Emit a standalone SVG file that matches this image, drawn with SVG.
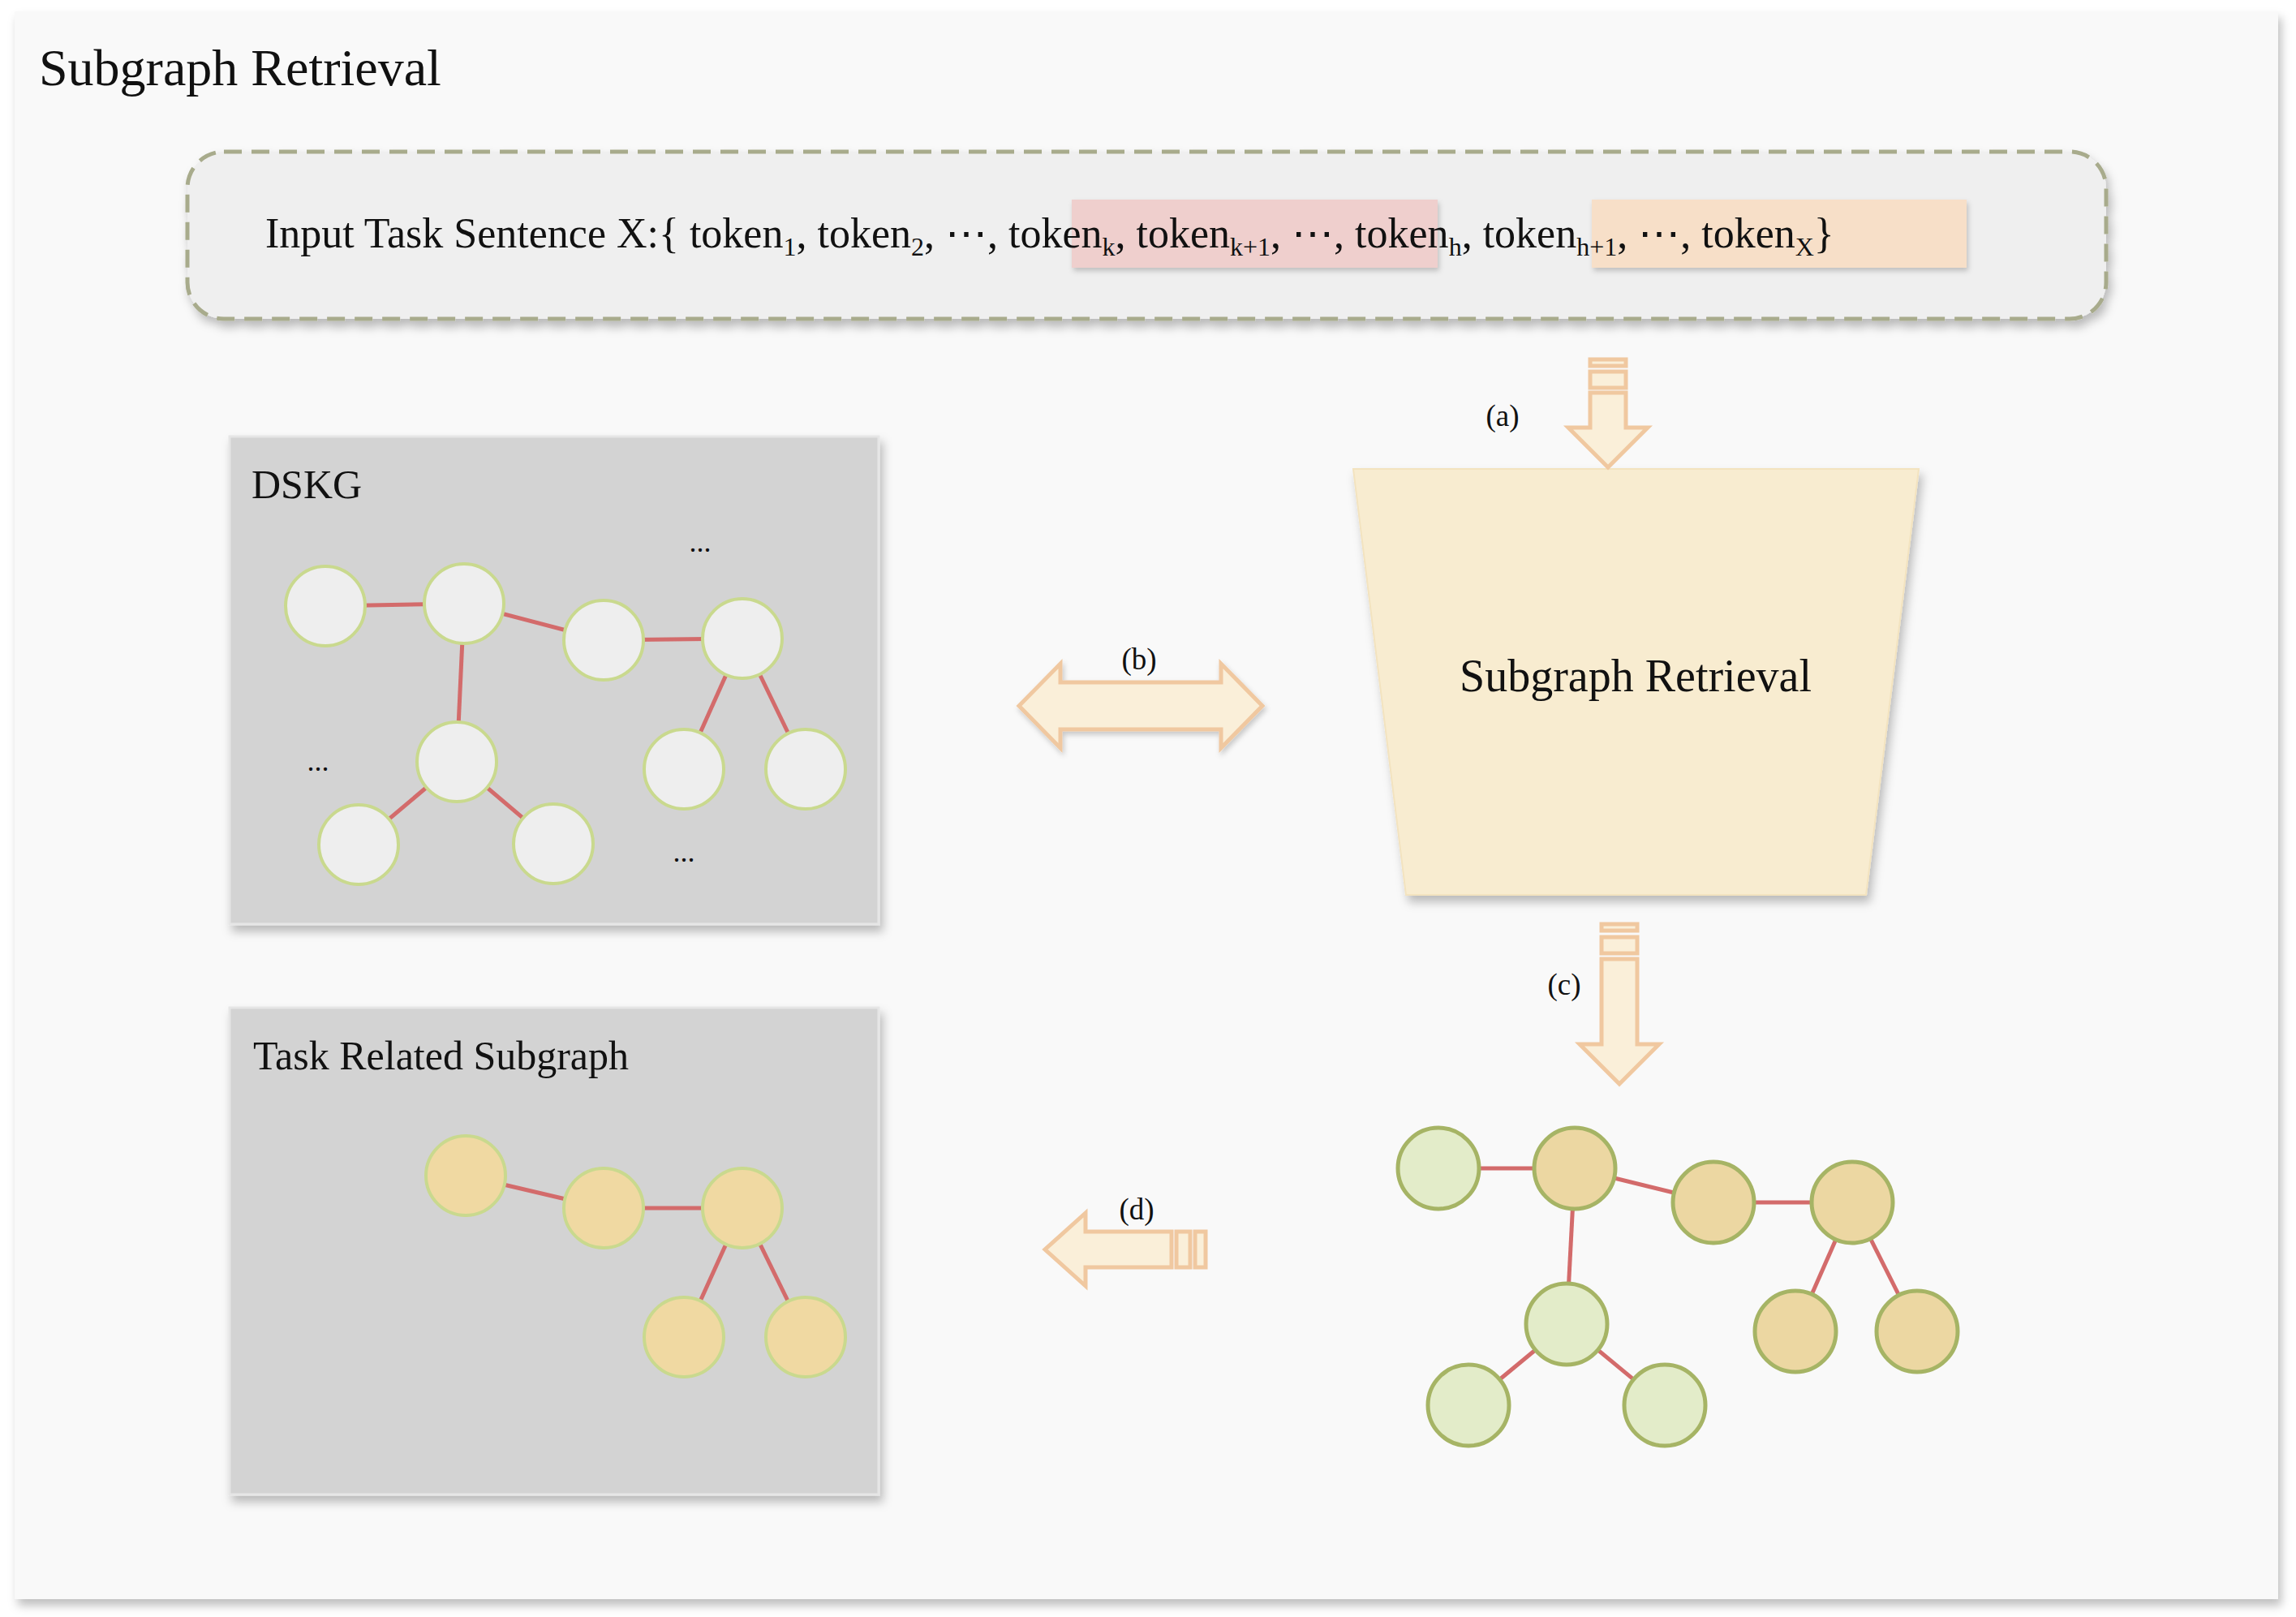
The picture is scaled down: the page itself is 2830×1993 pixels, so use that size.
<svg xmlns="http://www.w3.org/2000/svg" width="2830" height="1993" viewBox="0 0 2830 1993">
<defs>
<filter id="sh" x="-10%" y="-10%" width="130%" height="130%"><feDropShadow dx="4" dy="8" stdDeviation="6" flood-color="#000" flood-opacity="0.25"/></filter>
<filter id="sh2" x="-10%" y="-10%" width="130%" height="130%"><feDropShadow dx="2" dy="4" stdDeviation="3" flood-color="#000" flood-opacity="0.2"/></filter>
</defs>
<style>
text{font-family:"Liberation Serif","Times New Roman",serif;fill:#111}
.e{stroke:#d36b6b;stroke-width:5}
.g{fill:#eeeeee;stroke:#c9d98e;stroke-width:4}
.t{fill:#f0d9a2;stroke:#c9d98e;stroke-width:4}
.rg{fill:#e3ecc9;stroke:#a6b465;stroke-width:5}
.rt{fill:#ecd7a2;stroke:#a6b465;stroke-width:5}
.ar{fill:#faefd9;stroke:#f0c8a0;stroke-width:5}
.lab{font-size:37px}
</style>
<rect x="0" y="0" width="2830" height="1993" fill="#fff"/>
<rect x="18" y="14" width="2790" height="1957" fill="#f9f9f9" filter="url(#sh)"/>
<text x="48" y="105" font-size="64">Subgraph Retrieval</text>

<g id="input">
<rect x="231" y="187" width="2365" height="206" rx="45" fill="#efefef" stroke="#a8ab8c" stroke-width="5" stroke-dasharray="22 12" filter="url(#sh)"/>
<rect x="1321" y="246" width="451" height="84" fill="#efcfcd" filter="url(#sh2)"/>
<rect x="1962" y="246" width="462" height="84" fill="#f7dfc8" filter="url(#sh2)"/>
<text x="327" y="305" font-size="52">Input Task Sentence X:{ token<tspan font-size="32" dy="10">1</tspan><tspan dy="-10">, token</tspan><tspan font-size="32" dy="10">2</tspan><tspan dy="-10">, ⋯, token</tspan><tspan font-size="32" dy="10">k</tspan><tspan dy="-10">, token</tspan><tspan font-size="32" dy="10">k+1</tspan><tspan dy="-10">, ⋯, token</tspan><tspan font-size="32" dy="10">h</tspan><tspan dy="-10">, token</tspan><tspan font-size="32" dy="10">h+1</tspan><tspan dy="-10">, ⋯, token</tspan><tspan font-size="32" dy="10">X</tspan><tspan dy="-10">}</tspan></text>
</g>

<g id="dskg">
<rect x="283" y="538" width="800" height="601" fill="#d3d3d3" stroke="#e6e6e6" stroke-width="3" filter="url(#sh)"/>
<text x="310" y="614" font-size="50">DSKG</text>
<g>
<line class="e" x1="401" y1="747" x2="572" y2="744"/><line class="e" x1="572" y1="744" x2="744" y2="789"/><line class="e" x1="744" y1="789" x2="915" y2="787"/><line class="e" x1="572" y1="744" x2="563" y2="939"/><line class="e" x1="563" y1="939" x2="442" y2="1041"/><line class="e" x1="563" y1="939" x2="682" y2="1040"/><line class="e" x1="915" y1="787" x2="843" y2="948"/><line class="e" x1="915" y1="787" x2="993" y2="948"/>
</g>
<circle class="g" cx="401" cy="747" r="49"/><circle class="g" cx="572" cy="744" r="49"/><circle class="g" cx="744" cy="789" r="49"/><circle class="g" cx="915" cy="787" r="49"/><circle class="g" cx="563" cy="939" r="49"/><circle class="g" cx="442" cy="1041" r="49"/><circle class="g" cx="682" cy="1040" r="49"/><circle class="g" cx="843" cy="948" r="49"/><circle class="g" cx="993" cy="948" r="49"/>
<text x="863" y="680" font-size="36" text-anchor="middle">...</text>
<text x="392" y="950" font-size="36" text-anchor="middle">...</text>
<text x="843" y="1062" font-size="36" text-anchor="middle">...</text>
</g>

<g id="task">
<rect x="283" y="1242" width="800" height="600" fill="#d3d3d3" stroke="#e6e6e6" stroke-width="3" filter="url(#sh)"/>
<text x="312" y="1318" font-size="50">Task Related Subgraph</text>
<line class="e" x1="574" y1="1449" x2="744" y2="1489"/><line class="e" x1="744" y1="1489" x2="915" y2="1489"/><line class="e" x1="915" y1="1489" x2="843" y2="1648"/><line class="e" x1="915" y1="1489" x2="993" y2="1648"/>
<circle class="t" cx="574" cy="1449" r="49"/><circle class="t" cx="744" cy="1489" r="49"/><circle class="t" cx="915" cy="1489" r="49"/><circle class="t" cx="843" cy="1648" r="49"/><circle class="t" cx="993" cy="1648" r="49"/>
</g>

<g id="retrieval">
<polygon points="1668,578 2365,578 2300,1103 1733,1103" fill="#f8ecd0" stroke="#f3e3bf" stroke-width="2" filter="url(#sh)"/>
<text x="2016" y="852" font-size="56" text-anchor="middle">Subgraph Retrieval</text>
</g>

<g id="result">
<line class="e" x1="1773" y1="1440" x2="1941" y2="1440"/><line class="e" x1="1941" y1="1440" x2="2112" y2="1482"/><line class="e" x1="2112" y1="1482" x2="2283" y2="1482"/><line class="e" x1="1941" y1="1440" x2="1931" y2="1632"/><line class="e" x1="1931" y1="1632" x2="1810" y2="1732"/><line class="e" x1="1931" y1="1632" x2="2052" y2="1732"/><line class="e" x1="2283" y1="1482" x2="2213" y2="1641"/><line class="e" x1="2283" y1="1482" x2="2363" y2="1641"/>
<circle class="rg" cx="1773" cy="1440" r="50"/><circle class="rt" cx="1941" cy="1440" r="50"/><circle class="rt" cx="2112" cy="1482" r="50"/><circle class="rt" cx="2283" cy="1482" r="50"/><circle class="rg" cx="1931" cy="1632" r="50"/><circle class="rg" cx="1810" cy="1732" r="50"/><circle class="rg" cx="2052" cy="1732" r="50"/><circle class="rt" cx="2213" cy="1641" r="50"/><circle class="rt" cx="2363" cy="1641" r="50"/>
</g>

<g id="connectors">
<g id="arrow-a">
<rect class="ar" x="1960" y="443" width="44" height="8"/><rect class="ar" x="1960" y="458" width="44" height="20"/>
<polygon class="ar" points="1960,484 2004,484 2004,527 2031,527 1982,576 1933,527 1960,527"/>
</g>
<text class="lab" x="1852" y="525" text-anchor="middle">(a)</text>
<g id="arrow-b">
<polygon class="ar" points="1256,870 1307,818 1307,841 1505,841 1505,818 1556,870 1505,922 1505,899 1307,899 1307,922" filter="url(#sh2)"/>
</g>
<text class="lab" x="1404" y="825" text-anchor="middle">(b)</text>
<g id="arrow-c">
<rect class="ar" x="1974" y="1139" width="44" height="8"/><rect class="ar" x="1974" y="1155" width="44" height="20"/>
<polygon class="ar" points="1974,1182 2018,1182 2018,1287 2045,1287 1996,1336 1947,1287 1974,1287"/>
</g>
<text class="lab" x="1928" y="1226" text-anchor="middle">(c)</text>
<g id="arrow-d">
<rect class="ar" x="1473" y="1518" width="13" height="44"/><rect class="ar" x="1450" y="1518" width="17" height="44"/>
<polygon class="ar" points="1444,1518 1444,1562 1338,1562 1338,1585 1288,1540 1338,1495 1338,1518"/>
</g>
<text class="lab" x="1401" y="1503" text-anchor="middle">(d)</text>
</g>
</svg>
